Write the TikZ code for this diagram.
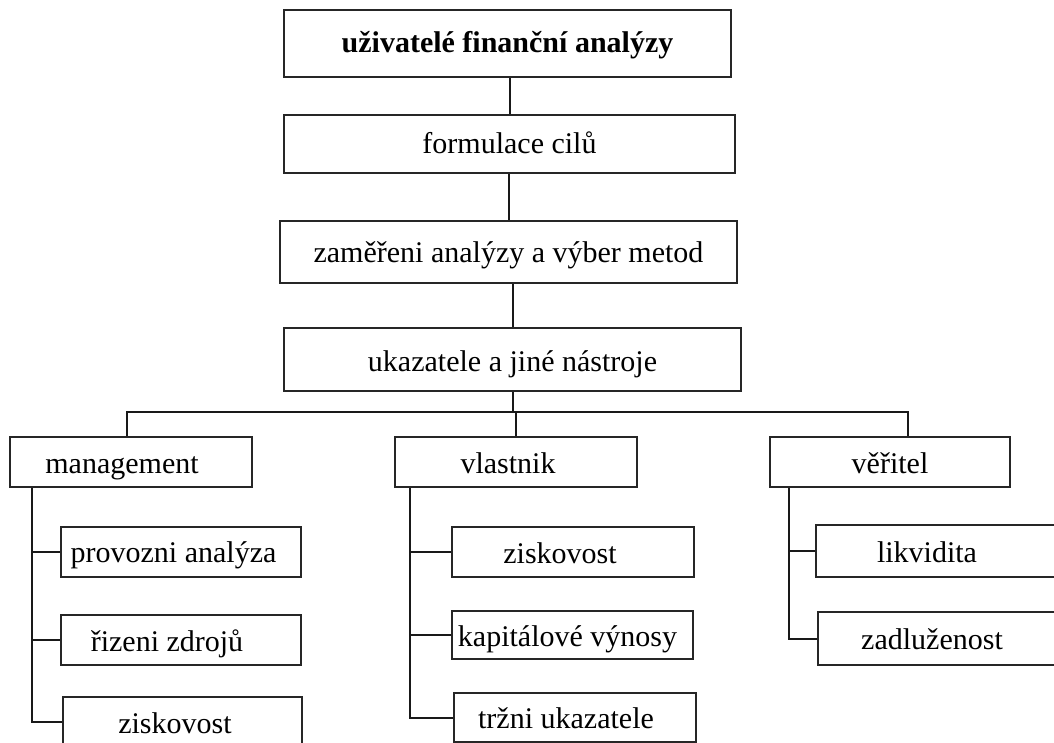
\documentclass[tikz,border=0pt]{standalone}
\usepackage{fontspec}
\setmainfont{Liberation Serif}
\begin{document}
\begin{tikzpicture}[x=1pt,y=-1pt,
  box/.style={draw=black!85,line width=2pt,rectangle,inner sep=0pt,
    font=\fontsize{30}{36}\selectfont,anchor=center,text height=22pt,text depth=0pt},
  conn/.style={draw=black!90,line width=2pt}]
\clip (0,0) rectangle (1054,743);
\fill[white] (0,0) rectangle (1054,743);
% main column
\node[box,minimum width=447,minimum height=67,text height=18pt,font=\fontsize{30}{36}\selectfont\bfseries] (top) at (507.5,43.5) {uživatelé finanční analýzy};
\node[box,minimum width=451,minimum height=58,text height=20pt] (form) at (509.5,144) {formulace cilů};
\node[box,minimum width=457,minimum height=62,text height=20pt] (zam) at (508.5,252) {zaměřeni analýzy a výber metod};
\node[box,minimum width=457,minimum height=63,text height=24pt] (ukaz) at (512.5,359.5) {ukazatele a jiné nástroje};
% groups
\node[box,minimum width=242,minimum height=50] (man) at (131,462) {\hspace*{-18pt}management};
\node[box,minimum width=242,minimum height=50] (vla) at (516,462) {\hspace*{-16pt}vlastnik};
\node[box,minimum width=240,minimum height=50] (ver) at (890,462) {věřitel};
% management items
\node[box,minimum width=240,minimum height=50,text height=20pt] (prov) at (181,552) {\hspace*{-15pt}provozni analýza};
\node[box,minimum width=240,minimum height=50] (riz) at (181,640) {\hspace*{-28pt}řizeni zdrojů};
\node[box,minimum width=239,minimum height=50] (zisk1) at (182.5,722) {\hspace*{-15pt}ziskovost};
% vlastnik items
\node[box,minimum width=242,minimum height=50] (zisk2) at (573,552) {\hspace*{-26pt}ziskovost};
\node[box,minimum width=241,minimum height=48] (kap) at (572.5,635) {\hspace*{-10pt}kapitálové výnosy};
\node[box,minimum width=242,minimum height=49] (trz) at (575,717.5) {\hspace*{-18pt}tržni ukazatele};
% veritel items
\node[box,minimum width=254,minimum height=52] (lik) at (943,551) {\hspace*{-32pt}likvidita};
\node[box,minimum width=252,minimum height=53] (zad) at (944,638.5) {\hspace*{-24pt}zadluženost};
% bus coordinates
\coordinate (bL) at (127,412);
\coordinate (bR) at (908,412);
% main column connectors
\draw[conn] (form.north) -- (form.north |- top.south);
\draw[conn] (zam.north) -- (zam.north |- form.south);
\draw[conn] (ukaz.north) -- (ukaz.north |- zam.south);
\draw[conn] (ukaz.south) -- (ukaz.south |- bL);
\draw[conn] (man.north -| bL) |- (bR) -- (bR |- ver.north);
\draw[conn] (vla.north) -- (vla.north |- bL);
% management branch
\draw[conn] ([xshift=23]man.south west) |- (zisk1.west);
\draw[conn] ([xshift=23]man.south west |- prov.west) -- (prov.west);
\draw[conn] ([xshift=23]man.south west |- riz.west) -- (riz.west);
% vlastnik branch
\draw[conn] ([xshift=16]vla.south west) |- (trz.west);
\draw[conn] ([xshift=16]vla.south west |- zisk2.west) -- (zisk2.west);
\draw[conn] ([xshift=16]vla.south west |- kap.west) -- (kap.west);
% veritel branch
\draw[conn] ([xshift=20]ver.south west) |- (zad.west);
\draw[conn] ([xshift=20]ver.south west |- lik.west) -- (lik.west);
\end{tikzpicture}
\end{document}
